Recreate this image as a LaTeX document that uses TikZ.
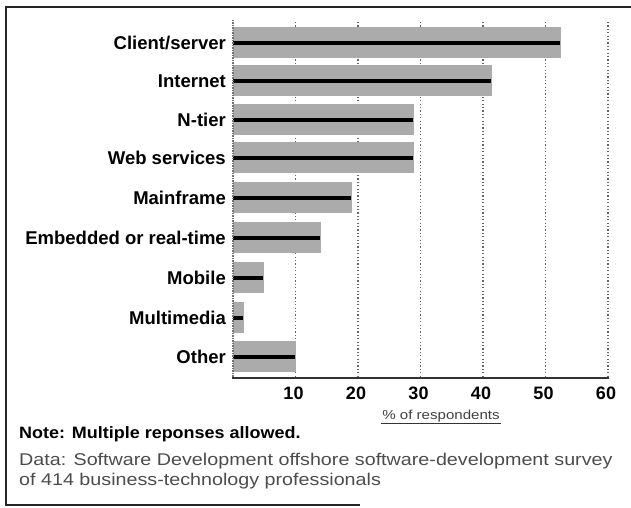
\documentclass[tikz,border=0pt]{standalone}
\usepackage{fontspec}
\setmainfont{Liberation Sans}
\newfontfamily\notefont[FakeStretch=1.09]{Liberation Sans}
\newfontfamily\datafont[FakeStretch=1.16]{Liberation Sans}
\begin{document}
\begin{tikzpicture}[x=1pt,y=-1pt,
  catlabel/.style={anchor=east,font=\bfseries\fontsize{18.5}{20}\selectfont,inner sep=0pt},
  ticklabel/.style={anchor=center,font=\bfseries\fontsize{18}{20}\selectfont,inner sep=0pt},
  barfill/.style={fill=black!33,draw=none},
  barline/.style={line width=3.5pt,black},
  gridline/.style={black!60,line width=1.2pt,dash pattern=on 1.2pt off 2.2pt},
  frameline/.style={black!85,line width=1.6pt}]
\useasboundingbox (0,0) rectangle (631,508);
% outer frame (left, top, bottom)
\draw[frameline] (631,7) -- (6,7) -- (6,505) -- (360,505);
% value axis grid: 0 at x=233, 6.25 per unit
\foreach \v in {10,20,30,40,50,60}{
  \draw[gridline] ({233+6.25*\v},22) -- ({233+6.25*\v},378);
  \node[ticklabel] (t\v) at ({233+6.25*\v-2},393) {\v};
}
% bars: value, row centre, label
\foreach \v/\y/\lab [count=\i] in {52.5/43/{Client/server},41.5/81/Internet,29/120/N-tier,29/158/Web services,19/198/Mainframe,14/238/Embedded or real-time,5/278/Mobile,1.8/318/Multimedia,10/357/Other}{
  \fill[barfill] (233,\y-16) rectangle ({233+6.25*\v},\y+15);
  \draw[barline] (233,\y) -- ({233+6.25*\v-1},\y);
  \node[catlabel] (c\i) at (226,\y) {\lab};
}
% axes
\draw[black!55,line width=2pt,dash pattern=on 1.5pt off 1pt] (233,20) -- (233,379);
\draw[black!80,line width=2pt] (232,378) -- (609,378);
% axis title
\node[font=\datafont\fontsize{13}{15}\selectfont,text=black!75,inner sep=1pt] (axt) at (441,416) {\% of respondents};
\draw[black!80,line width=0.9pt] (axt.south west) -- (axt.south east);
% notes
\node[anchor=west,font=\notefont\bfseries\fontsize{16.5}{18}\selectfont,inner sep=0pt] (note) at (19,434) {Note: Multiple reponses allowed.};
\node[anchor=north west,align=left,text=black!70,font=\datafont\fontsize{17}{19.5}\selectfont,inner sep=0pt] (data) at (19,453)
  {Data: Software Development offshore software-development survey\\of 414 business-technology professionals};
\end{tikzpicture}
\end{document}
